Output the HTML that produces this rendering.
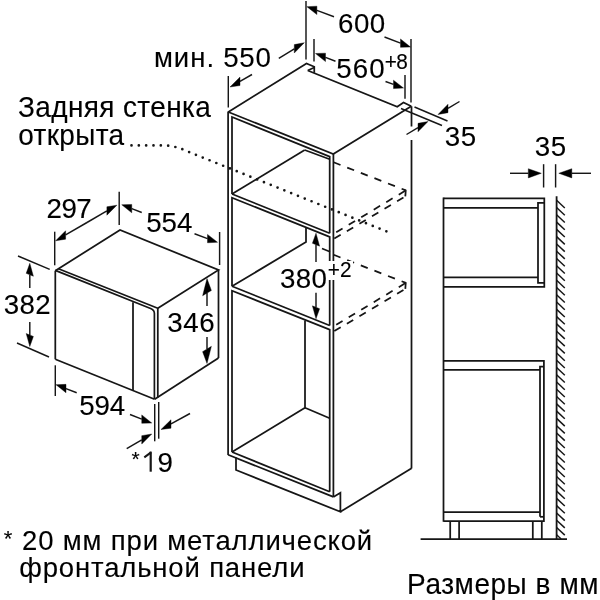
<!DOCTYPE html>
<html><head><meta charset="utf-8"><style>
html,body{margin:0;padding:0;background:#fff;}
svg{display:block;filter:grayscale(1);}
text{font-family:"Liberation Sans",sans-serif;fill:#000;stroke:#000;stroke-width:0.12px;}
</style></head><body>
<svg width="600" height="600" viewBox="0 0 600 600">
<rect width="600" height="600" fill="#fff"/>
<g stroke="#161616" stroke-linecap="butt" stroke-linejoin="miter" fill="none">
<path d="M228.3,112 L306.5,63.5 L314.25,66.75 L314.25,72.75" fill="none" stroke-width="1.75"/>
<line x1="307.75" y1="70.5" x2="314.25" y2="67.5" stroke-width="1.75"/>
<path d="M307.75,70.5 L397.25,106.75 L403.5,102.5 L411.25,106.25" fill="none" stroke-width="1.75"/>
<path d="M411.25,106.25 L333.3,154 L228.3,112" fill="none" stroke-width="1.75"/>
<line x1="228.1" y1="111.5" x2="228.1" y2="455" stroke-width="1.75"/>
<line x1="333.4" y1="153.5" x2="333.4" y2="497" stroke-width="1.75"/>
<line x1="228.1" y1="454.8" x2="333.4" y2="496.9" stroke-width="1.75"/>
<path d="M236,457.5 L236,470 L340.4,511.8 L340.4,492.8 L333.4,496.9" fill="none" stroke-width="1.75"/>
<line x1="340.4" y1="511.8" x2="411.6" y2="468.2" stroke-width="1.75"/>
<line x1="411.5" y1="106.25" x2="411.5" y2="126.5" stroke-width="1.75"/>
<line x1="411.5" y1="140" x2="411.5" y2="468.5" stroke-width="1.75"/>
<path d="M232,194 L232,117 L329.7,156.7 L329.7,233.3" fill="none" stroke-width="1.75"/>
<line x1="232" y1="194" x2="329.7" y2="233.3" stroke-width="1.75"/>
<line x1="232" y1="194" x2="304.7" y2="150" stroke-width="1.75"/>
<line x1="304.7" y1="150" x2="329.7" y2="159.3" stroke-width="1.75"/>
<path d="M232,286.3 L232,197.7 L329.7,236.9 L329.7,325.5" fill="none" stroke-width="1.75"/>
<line x1="232" y1="286.3" x2="329.7" y2="325.5" stroke-width="1.75"/>
<path d="M306,227.8 L306,242 L232,286.3" fill="none" stroke-width="1.75"/>
<line x1="322" y1="248.5" x2="330" y2="251.7" stroke-width="1.75"/>
<path d="M232,452 L232,290.7 L329.7,329.7 L329.7,491.7" fill="none" stroke-width="1.75"/>
<line x1="232" y1="452" x2="329.7" y2="491.7" stroke-width="1.75"/>
<path d="M305,320.5 L305,407.7 L232,452" fill="none" stroke-width="1.75"/>
<line x1="305" y1="407.7" x2="329.7" y2="418.2" stroke-width="1.75"/>
<line x1="333.6" y1="162.3" x2="405.8" y2="190.4" stroke-width="1.75" stroke-dasharray="7.4 7.2"/>
<line x1="334.5" y1="233.3" x2="405.8" y2="190.4" stroke-width="1.75" stroke-dasharray="7.4 7.2" stroke-dashoffset="12.6"/>
<line x1="334.3" y1="238.6" x2="405.3" y2="196.5" stroke-width="1.75" stroke-dasharray="7.4 7.2"/>
<line x1="405.8" y1="189.8" x2="405.3" y2="196.4" stroke-width="1.75"/>
<line x1="333.6" y1="254.8" x2="405.8" y2="282.9" stroke-width="1.75" stroke-dasharray="7.4 7.2"/>
<line x1="334.5" y1="325.8" x2="405.8" y2="282.9" stroke-width="1.75" stroke-dasharray="7.4 7.2" stroke-dashoffset="12.6"/>
<line x1="334.3" y1="331.1" x2="405.3" y2="289.0" stroke-width="1.75" stroke-dasharray="7.4 7.2"/>
<line x1="405.8" y1="282.3" x2="405.3" y2="288.9" stroke-width="1.75"/>
<path d="M131.5,145.4 L163,145.4 Q175,145.6 186,150.8 L386.5,231.4" fill="none" stroke-width="2.7" stroke-dasharray="0 7.33" stroke-linecap="round"/>
<line x1="228.3" y1="76" x2="228.3" y2="107.5" stroke-width="1.45"/>
<line x1="306" y1="1" x2="306" y2="59.5" stroke-width="1.45"/>
<line x1="240.0" y1="81.31818181818181" x2="252" y2="74.5" stroke-width="1.45"/>
<path d="M230.00,87.00 L240.00,85.52 L240.00,77.12 Z" fill="#000" stroke="#000" stroke-width="0.4"/>
<line x1="294.3" y1="48.81764705882353" x2="278.8" y2="58.3" stroke-width="1.45"/>
<path d="M304.30,42.70 L294.30,53.02 L294.30,44.62 Z" fill="#000" stroke="#000" stroke-width="0.4"/>
<text transform="translate(153.90,66.5) scale(1.0,1.0)" font-size="27.5" letter-spacing="1.033">мин.</text>
<text transform="translate(223.16,66.5) scale(0.99,1.02)" font-size="28" letter-spacing="0.780">550</text>
<line x1="314" y1="39" x2="314" y2="61.5" stroke-width="1.45"/>
<line x1="411" y1="39" x2="411" y2="102.5" stroke-width="1.45"/>
<line x1="405" y1="75" x2="405" y2="98.75" stroke-width="1.45"/>
<line x1="316.9" y1="10.390036900369001" x2="334" y2="16.7" stroke-width="1.45"/>
<path d="M306.90,6.70 L316.90,14.59 L316.90,6.19 Z" fill="#000" stroke="#000" stroke-width="0.4"/>
<line x1="400.5" y1="43.15384615384615" x2="384.5" y2="37" stroke-width="1.45"/>
<path d="M410.50,47.00 L400.50,47.35 L400.50,38.95 Z" fill="#000" stroke="#000" stroke-width="0.4"/>
<text transform="translate(338.11,33.4) scale(0.99,1.02)" font-size="28" letter-spacing="0.400">600</text>
<line x1="325.5" y1="57.375" x2="335.5" y2="61.25" stroke-width="1.45"/>
<path d="M315.50,53.50 L325.50,61.58 L325.50,53.17 Z" fill="#000" stroke="#000" stroke-width="0.4"/>
<line x1="393.5" y1="84.38888888888889" x2="385.5" y2="81.5" stroke-width="1.45"/>
<path d="M403.50,88.00 L393.50,88.59 L393.50,80.19 Z" fill="#000" stroke="#000" stroke-width="0.4"/>
<text transform="translate(336.26,78) scale(0.99,1.02)" font-size="28" letter-spacing="1.083">560</text>
<text transform="translate(384.66,68.7) scale(0.99,1.02)" font-size="21" letter-spacing="-0.536">+8</text>
<line x1="414.5" y1="107" x2="447.5" y2="121" stroke-width="1.45"/>
<line x1="401" y1="108.5" x2="442" y2="125.5" stroke-width="1.45"/>
<line x1="418.0" y1="127.54651162790698" x2="406.5" y2="134.5" stroke-width="1.45"/>
<path d="M428.00,121.50 L418.00,131.75 L418.00,123.35 Z" fill="#000" stroke="#000" stroke-width="0.4"/>
<line x1="448.0" y1="108.45348837209302" x2="459.5" y2="101.5" stroke-width="1.45"/>
<path d="M438.00,114.50 L448.00,112.65 L448.00,104.25 Z" fill="#000" stroke="#000" stroke-width="0.4"/>
<text transform="translate(444.86,145.5) scale(0.99,1.02)" font-size="28" letter-spacing="0.595">35</text>
<line x1="316.0" y1="244.7" x2="316" y2="262" stroke-width="1.45"/>
<path d="M316.00,233.20 L319.60,246.14 L312.40,243.26 Z" fill="#000" stroke="#000" stroke-width="0.4"/>
<line x1="316.0" y1="307.3" x2="316" y2="292.7" stroke-width="1.45"/>
<path d="M316.00,318.80 L319.60,308.74 L312.40,305.86 Z" fill="#000" stroke="#000" stroke-width="0.4"/>
<rect x="327" y="261" width="26" height="19" fill="#fff" stroke="none"/>
<text transform="translate(279.96,288) scale(0.99,1.02)" font-size="28" letter-spacing="0.377">380</text>
<text transform="translate(327.66,277.3) scale(0.99,1.02)" font-size="21" letter-spacing="0.321">+2</text>
<path d="M55.3,270.7 L120,230 L218.5,270 L157.8,308.3" fill="none" stroke-width="1.75"/>
<line x1="58.4" y1="268.7" x2="157.8" y2="308.3" stroke-width="1.7"/>
<path d="M55.3,270.4 L150.6,308.5 Q154.4,310 154.4,313.5 L154.4,399" fill="none" stroke-width="1.7"/>
<line x1="157.8" y1="308" x2="157.8" y2="397.5" stroke-width="1.75"/>
<line x1="55.3" y1="270.7" x2="55.3" y2="359.3" stroke-width="1.75"/>
<line x1="55.3" y1="359.3" x2="154.6" y2="399.2" stroke-width="1.75"/>
<line x1="218.5" y1="270" x2="218.5" y2="358" stroke-width="1.75"/>
<line x1="218.5" y1="358" x2="154.6" y2="399.2" stroke-width="1.75"/>
<line x1="133" y1="302.2" x2="133" y2="390.5" stroke-width="1.75"/>
<line x1="119.2" y1="191.7" x2="119.2" y2="225" stroke-width="1.45"/>
<line x1="54.7" y1="231.7" x2="54.7" y2="265.3" stroke-width="1.45"/>
<line x1="65.6" y1="234.971974522293" x2="87" y2="222.5" stroke-width="1.45"/>
<path d="M55.60,240.80 L65.60,239.17 L65.60,230.77 Z" fill="#000" stroke="#000" stroke-width="0.4"/>
<line x1="106.9" y1="210.98595317725753" x2="87" y2="222.5" stroke-width="1.45"/>
<path d="M116.90,205.20 L106.90,215.19 L106.90,206.79 Z" fill="#000" stroke="#000" stroke-width="0.4"/>
<text transform="translate(46.51,217.5) scale(0.99,1.02)" font-size="28" letter-spacing="-0.485">297</text>
<line x1="219.6" y1="232" x2="219.6" y2="265" stroke-width="1.45"/>
<line x1="131.75" y1="208.625" x2="141.75" y2="212.5" stroke-width="1.45"/>
<path d="M121.75,204.75 L131.75,212.82 L131.75,204.43 Z" fill="#000" stroke="#000" stroke-width="0.4"/>
<line x1="207.5" y1="238.57608695652175" x2="194.5" y2="233.8" stroke-width="1.45"/>
<path d="M217.50,242.25 L207.50,242.78 L207.50,234.38 Z" fill="#000" stroke="#000" stroke-width="0.4"/>
<text transform="translate(146.26,232) scale(0.99,1.02)" font-size="28" letter-spacing="-0.052">554</text>
<line x1="18" y1="256" x2="49.7" y2="269.3" stroke-width="1.45"/>
<line x1="17" y1="343" x2="49" y2="357" stroke-width="1.45"/>
<line x1="29.8" y1="274.8" x2="29.8" y2="288" stroke-width="1.45"/>
<path d="M29.80,263.30 L33.40,276.24 L26.20,273.36 Z" fill="#000" stroke="#000" stroke-width="0.4"/>
<line x1="29.8" y1="335.0" x2="29.8" y2="322" stroke-width="1.45"/>
<path d="M29.80,346.50 L33.40,336.44 L26.20,333.56 Z" fill="#000" stroke="#000" stroke-width="0.4"/>
<text transform="translate(3.76,314) scale(0.99,1.02)" font-size="28" letter-spacing="0.299">382</text>
<line x1="207.0" y1="293.1" x2="207" y2="306" stroke-width="1.45"/>
<path d="M207.00,278.60 L211.40,290.46 L202.60,295.74 Z" fill="#000" stroke="#000" stroke-width="0.4"/>
<line x1="207.0" y1="349.0" x2="207" y2="337" stroke-width="1.45"/>
<path d="M207.00,363.50 L211.40,346.36 L202.60,351.64 Z" fill="#000" stroke="#000" stroke-width="0.4"/>
<text transform="translate(167.36,332) scale(0.99,1.02)" font-size="28" letter-spacing="0.603">346</text>
<line x1="55.3" y1="365.3" x2="55.3" y2="396" stroke-width="1.45"/>
<line x1="154.7" y1="404" x2="154.7" y2="441.3" stroke-width="1.45"/>
<line x1="158.7" y1="402" x2="158.7" y2="438.7" stroke-width="1.45"/>
<line x1="66.0" y1="388.5647342995169" x2="76.7" y2="392.7" stroke-width="1.45"/>
<path d="M56.00,384.70 L66.00,392.76 L66.00,384.36 Z" fill="#000" stroke="#000" stroke-width="0.4"/>
<line x1="141.75" y1="419.0919540229885" x2="130" y2="414.5" stroke-width="1.45"/>
<path d="M151.75,423.00 L141.75,423.29 L141.75,414.89 Z" fill="#000" stroke="#000" stroke-width="0.4"/>
<text transform="translate(79.26,415.3) scale(0.99,1.02)" font-size="28" letter-spacing="-0.203">594</text>
<line x1="171.0" y1="423.98275862068965" x2="190" y2="413.5" stroke-width="1.45"/>
<path d="M161.00,429.50 L171.00,428.18 L171.00,419.78 Z" fill="#000" stroke="#000" stroke-width="0.4"/>
<line x1="141.75" y1="439.8682634730539" x2="126.7" y2="448.7" stroke-width="1.45"/>
<path d="M151.75,434.00 L141.75,444.07 L141.75,435.67 Z" fill="#000" stroke="#000" stroke-width="0.4"/>
<text transform="translate(131.55,465.9) scale(1.0,1.0)" font-size="21" letter-spacing="0.000">*</text>
<text transform="translate(157.41,471.5) scale(0.99,1.02)" font-size="28" letter-spacing="0.000">9</text>
<line x1="150.7" y1="451.6" x2="150.7" y2="471.7" stroke-width="2.2"/>
<line x1="151.0" y1="452.4" x2="144.3" y2="457.4" stroke-width="2.0"/>
<line x1="443.5" y1="197.4" x2="443.5" y2="521.8" stroke-width="1.75"/>
<path d="M443.5,198.3 L544.3,198.3 L544.3,286.8 L443.5,286.8" fill="none" stroke-width="1.75"/>
<line x1="443.5" y1="207.8" x2="538" y2="207.8" stroke-width="1.75"/>
<path d="M544.3,282.8 L538,282.8 L538,202.8 L544.3,202.8" fill="none" stroke-width="1.75"/>
<line x1="443.5" y1="277.4" x2="538" y2="277.4" stroke-width="1.75"/>
<path d="M443.5,360.8 L543.9,360.8 L543.9,521 L443.5,521" fill="none" stroke-width="1.75"/>
<line x1="443.5" y1="369.9" x2="540" y2="369.9" stroke-width="1.75"/>
<path d="M540,516.8 L540,366.7 L543.9,366.7" fill="none" stroke-width="1.75"/>
<line x1="540" y1="516.8" x2="543.9" y2="516.8" stroke-width="1.75"/>
<line x1="443.5" y1="512" x2="540" y2="512" stroke-width="1.75"/>
<line x1="450.2" y1="521" x2="450.2" y2="539" stroke-width="1.75"/>
<line x1="459.1" y1="521" x2="459.1" y2="539" stroke-width="1.75"/>
<line x1="532.8" y1="521" x2="532.8" y2="539" stroke-width="1.75"/>
<line x1="541.8" y1="521" x2="541.8" y2="539" stroke-width="1.75"/>
<line x1="420.6" y1="539" x2="567" y2="539" stroke-width="1.75"/>
<line x1="556.6" y1="196.3" x2="556.6" y2="539" stroke-width="1.8"/>
<line x1="556.6" y1="200.3" x2="564.8" y2="208.0" stroke-width="1.45"/>
<line x1="556.6" y1="207.57000000000002" x2="564.8" y2="215.27" stroke-width="1.45"/>
<line x1="556.6" y1="214.84" x2="564.8" y2="222.54" stroke-width="1.45"/>
<line x1="556.6" y1="222.11" x2="564.8" y2="229.81" stroke-width="1.45"/>
<line x1="556.6" y1="229.38" x2="564.8" y2="237.07999999999998" stroke-width="1.45"/>
<line x1="556.6" y1="236.65" x2="564.8" y2="244.35" stroke-width="1.45"/>
<line x1="556.6" y1="243.92000000000002" x2="564.8" y2="251.62" stroke-width="1.45"/>
<line x1="556.6" y1="251.19" x2="564.8" y2="258.89" stroke-width="1.45"/>
<line x1="556.6" y1="258.46000000000004" x2="564.8" y2="266.16" stroke-width="1.45"/>
<line x1="556.6" y1="265.73" x2="564.8" y2="273.43" stroke-width="1.45"/>
<line x1="556.6" y1="273.0" x2="564.8" y2="280.7" stroke-width="1.45"/>
<line x1="556.6" y1="280.27" x2="564.8" y2="287.96999999999997" stroke-width="1.45"/>
<line x1="556.6" y1="287.54" x2="564.8" y2="295.24" stroke-width="1.45"/>
<line x1="556.6" y1="294.81" x2="564.8" y2="302.51" stroke-width="1.45"/>
<line x1="556.6" y1="302.08000000000004" x2="564.8" y2="309.78000000000003" stroke-width="1.45"/>
<line x1="556.6" y1="309.35" x2="564.8" y2="317.05" stroke-width="1.45"/>
<line x1="556.6" y1="316.62" x2="564.8" y2="324.32" stroke-width="1.45"/>
<line x1="556.6" y1="323.89" x2="564.8" y2="331.59" stroke-width="1.45"/>
<line x1="556.6" y1="331.15999999999997" x2="564.8" y2="338.85999999999996" stroke-width="1.45"/>
<line x1="556.6" y1="338.43" x2="564.8" y2="346.13" stroke-width="1.45"/>
<line x1="556.6" y1="345.7" x2="564.8" y2="353.4" stroke-width="1.45"/>
<line x1="556.6" y1="352.97" x2="564.8" y2="360.67" stroke-width="1.45"/>
<line x1="556.6" y1="360.24" x2="564.8" y2="367.94" stroke-width="1.45"/>
<line x1="556.6" y1="367.51" x2="564.8" y2="375.21" stroke-width="1.45"/>
<line x1="556.6" y1="374.78" x2="564.8" y2="382.47999999999996" stroke-width="1.45"/>
<line x1="556.6" y1="382.05" x2="564.8" y2="389.75" stroke-width="1.45"/>
<line x1="556.6" y1="389.32" x2="564.8" y2="397.02" stroke-width="1.45"/>
<line x1="556.6" y1="396.59000000000003" x2="564.8" y2="404.29" stroke-width="1.45"/>
<line x1="556.6" y1="403.86" x2="564.8" y2="411.56" stroke-width="1.45"/>
<line x1="556.6" y1="411.13" x2="564.8" y2="418.83" stroke-width="1.45"/>
<line x1="556.6" y1="418.4" x2="564.8" y2="426.09999999999997" stroke-width="1.45"/>
<line x1="556.6" y1="425.66999999999996" x2="564.8" y2="433.36999999999995" stroke-width="1.45"/>
<line x1="556.6" y1="432.94" x2="564.8" y2="440.64" stroke-width="1.45"/>
<line x1="556.6" y1="440.21000000000004" x2="564.8" y2="447.91" stroke-width="1.45"/>
<line x1="556.6" y1="447.48" x2="564.8" y2="455.18" stroke-width="1.45"/>
<line x1="556.6" y1="454.75" x2="564.8" y2="462.45" stroke-width="1.45"/>
<line x1="556.6" y1="462.02" x2="564.8" y2="469.71999999999997" stroke-width="1.45"/>
<line x1="556.6" y1="469.29" x2="564.8" y2="476.99" stroke-width="1.45"/>
<line x1="556.6" y1="476.56" x2="564.8" y2="484.26" stroke-width="1.45"/>
<line x1="556.6" y1="483.83" x2="564.8" y2="491.53" stroke-width="1.45"/>
<line x1="556.6" y1="491.09999999999997" x2="564.8" y2="498.79999999999995" stroke-width="1.45"/>
<line x1="556.6" y1="498.37" x2="564.8" y2="506.07" stroke-width="1.45"/>
<line x1="556.6" y1="505.64" x2="564.8000000000001" y2="513.34" stroke-width="1.45"/>
<line x1="556.6" y1="512.91" x2="564.8000000000001" y2="520.61" stroke-width="1.45"/>
<line x1="556.6" y1="520.1800000000001" x2="564.8000000000001" y2="527.8800000000001" stroke-width="1.45"/>
<line x1="556.6" y1="527.45" x2="564.8000000000001" y2="535.1500000000001" stroke-width="1.45"/>
<line x1="556.6" y1="534.72" x2="561.1579220779221" y2="539" stroke-width="1.45"/>
<line x1="543.6" y1="164.2" x2="543.6" y2="187.5" stroke-width="1.45"/>
<line x1="555.6" y1="164.2" x2="555.6" y2="187.5" stroke-width="1.45"/>
<line x1="528.3" y1="173.3" x2="510" y2="173.3" stroke-width="1.45"/>
<path d="M541.30,173.30 L528.30,177.90 L528.30,168.70 Z" fill="#000" stroke="#000" stroke-width="0.4"/>
<line x1="571.8" y1="173.3" x2="591" y2="173.3" stroke-width="1.45"/>
<path d="M558.80,173.30 L571.80,177.90 L571.80,168.70 Z" fill="#000" stroke="#000" stroke-width="0.4"/>
<text transform="translate(534.86,156) scale(0.99,1.02)" font-size="28" letter-spacing="0.595">35</text>
<text transform="translate(17.95,117) scale(1.0,1.03)" font-size="28" letter-spacing="0.383">Задняя стенка</text>
<text transform="translate(18.20,145.3) scale(1.0,1.03)" font-size="28" letter-spacing="0.350">открыта</text>
<text transform="translate(3.65,545.7) scale(1.0,1.0)" font-size="22" letter-spacing="0.000">*</text>
<text transform="translate(22.00,549.5) scale(1.0,1.0)" font-size="27.5" letter-spacing="0.848">20 мм при металлической</text>
<text transform="translate(19.25,577.2) scale(1.0,1.0)" font-size="27.5" letter-spacing="0.838">фронтальной панели</text>
<text transform="translate(407.10,593.8) scale(1.0,1.05)" font-size="28" letter-spacing="0.559">Размеры в мм</text>
</g>
</svg>
</body></html>
